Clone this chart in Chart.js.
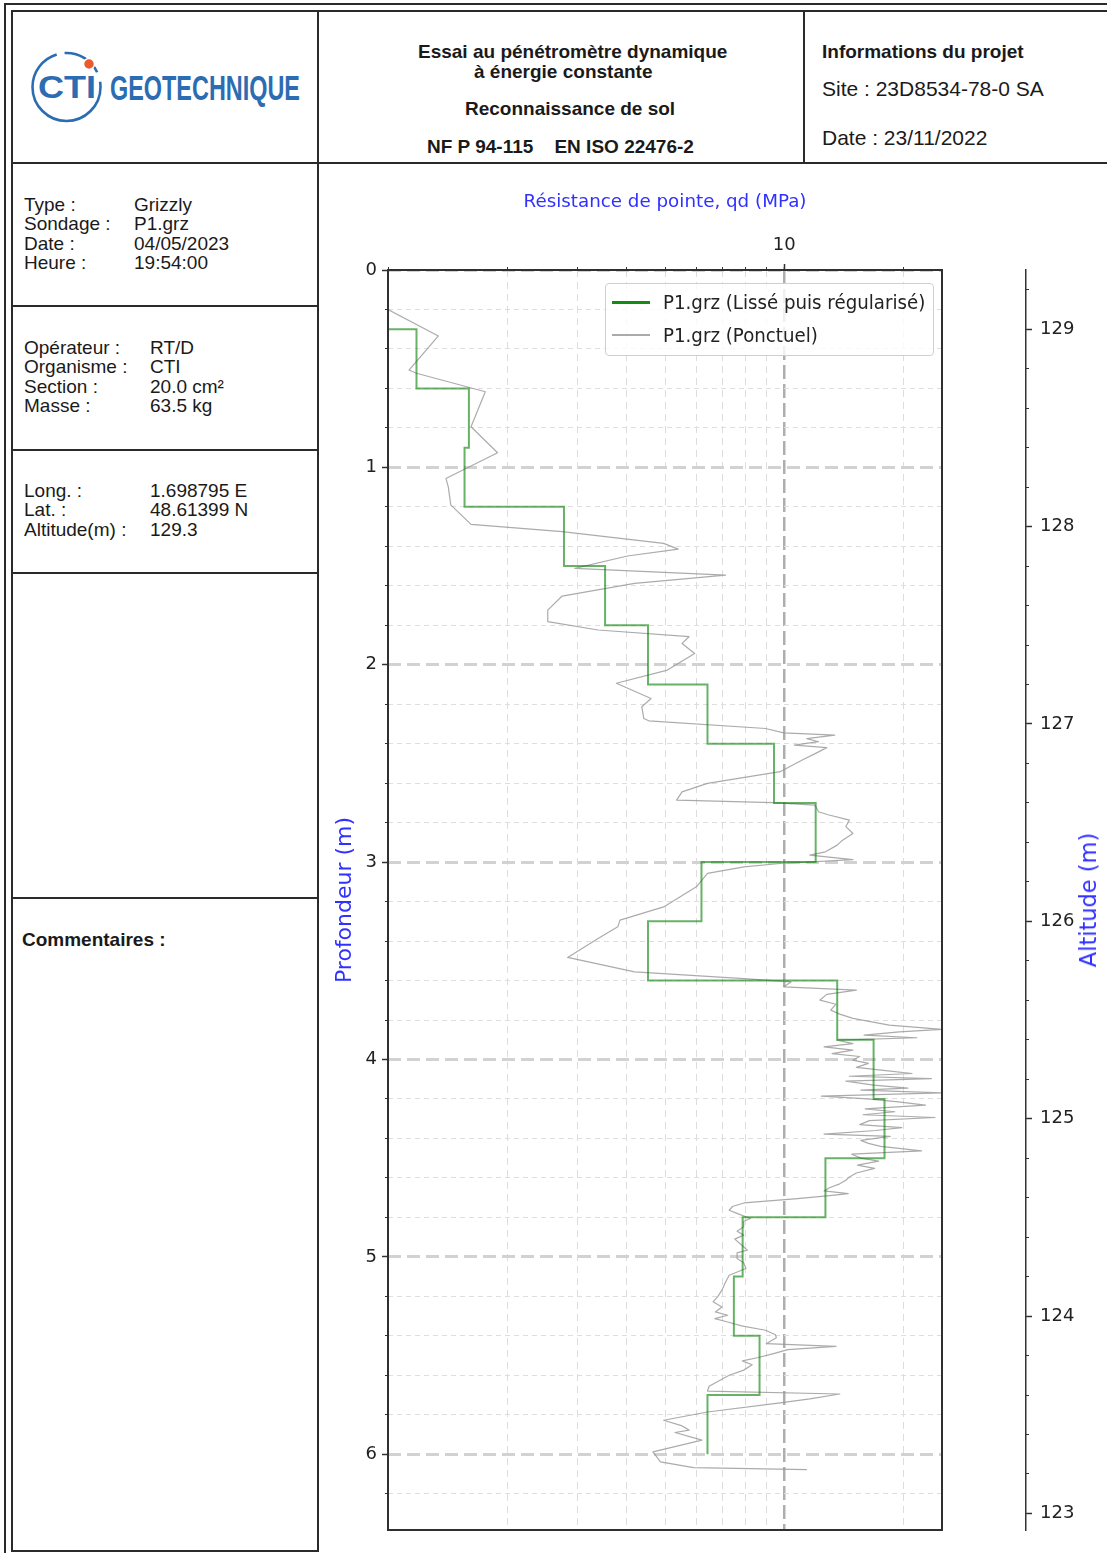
<!DOCTYPE html>
<html lang="fr">
<head>
<meta charset="utf-8">
<title>Essai au pénétromètre dynamique - P1</title>
<script src="https://cdn.jsdelivr.net/npm/chart.js@4.4.1/dist/chart.umd.min.js"></script>
<style>
  html, body { margin: 0; padding: 0; background: #fff; }
  body { position: relative; width: 1107px; height: 1553px; overflow: hidden;
         font-family: "Liberation Sans", Arial, sans-serif; color: #1a1a1a; }
  .ln { position: absolute; background: #2a2a2a; }
  .t { position: absolute; white-space: pre; }
  .hb { font-weight: bold; font-size: 19px; line-height: 20px; }
  .info { font-size: 19px; line-height: 19.3px; }
  canvas { position: absolute; }
  #legend { position: absolute; left: 605px; top: 283px; width: 327px; height: 71px;
            border: 1px solid #cfcfcf; border-radius: 4px; background: rgba(255,255,255,0.82);
            font-family: "DejaVu Sans", sans-serif; font-size: 20px; color: #222; }
  .lg-item { position: absolute; left: 0; height: 24px; }
  .lg-swatch { position: absolute; left: 6px; width: 38px; top: 11px; }
  .lg-text { position: absolute; left: 57px; top: 0; line-height: 24px; white-space: pre;
             transform: scaleX(0.91); transform-origin: 0 50%; }
  #altTitle { position: absolute; left: 1088px; top: 900px; transform: translate(-50%, -50%) rotate(-90deg);
              font-family: "DejaVu Sans", sans-serif; font-size: 22.5px; color: #3030ff; white-space: pre; }
</style>
</head>
<body>

<!-- page frame -->
<div class="ln" style="left:4px;top:3px;width:1103px;height:2px"></div>
<div class="ln" style="left:4px;top:3px;width:2px;height:1550px"></div>
<div class="ln" style="left:11px;top:10px;width:1096px;height:2px"></div>
<div class="ln" style="left:11px;top:10px;width:2px;height:1542px"></div>
<div class="ln" style="left:11px;top:162px;width:1096px;height:2px"></div>
<div class="ln" style="left:317px;top:10px;width:2px;height:1542px"></div>
<div class="ln" style="left:803px;top:10px;width:2px;height:153px"></div>
<div class="ln" style="left:11px;top:305px;width:308px;height:2px"></div>
<div class="ln" style="left:11px;top:449px;width:308px;height:2px"></div>
<div class="ln" style="left:11px;top:572px;width:308px;height:2px"></div>
<div class="ln" style="left:11px;top:897px;width:308px;height:2px"></div>
<div class="ln" style="left:11px;top:1550px;width:308px;height:2px"></div>

<!-- company logo -->
<svg style="position:absolute;left:20px;top:40px" width="290" height="100" viewBox="0 0 290 100">
  <circle cx="46.5" cy="47" r="34" fill="none" stroke="#2b6cb3" stroke-width="2.6"
          stroke-dasharray="150 8 40 10 200" />
  <text x="47" y="58" text-anchor="middle" font-family="Liberation Sans, Arial" font-weight="bold"
        font-size="31" fill="#2b6cb3" stroke="#fff" stroke-width="3" paint-order="stroke"
        textLength="58" lengthAdjust="spacingAndGlyphs">CTI</text>
  <circle cx="69" cy="24" r="5.5" fill="#ea5a2b" stroke="#fff" stroke-width="1.5"/>
  <text x="90" y="60" font-family="Liberation Sans Narrow, Liberation Sans, Arial" font-weight="bold"
        font-size="35" fill="#2b6cb3" textLength="190" lengthAdjust="spacingAndGlyphs">GEOTECHNIQUE</text>
</svg>

<!-- header texts -->
<div class="t hb" style="left:418px;top:42px">Essai au pénétromètre dynamique</div>
<div class="t hb" style="left:474px;top:62px">à énergie constante</div>
<div class="t hb" style="left:465px;top:99px">Reconnaissance de sol</div>
<div class="t hb" style="left:427px;top:137px">NF P 94-115    EN ISO 22476-2</div>
<div class="t hb" style="left:822px;top:42px">Informations du projet</div>
<div class="t" style="left:822px;top:78px;font-size:21px;line-height:22px">Site : 23D8534-78-0 SA</div>
<div class="t" style="left:822px;top:127px;font-size:21px;line-height:22px">Date : 23/11/2022</div>

<!-- sounding information -->
<div class="t info" style="left:24px;top:195px">Type :
Sondage :
Date :
Heure :</div>
<div class="t info" style="left:134px;top:195px">Grizzly
P1.grz
04/05/2023
19:54:00</div>
<div class="t info" style="left:24px;top:338px">Opérateur :
Organisme :
Section :
Masse :</div>
<div class="t info" style="left:150px;top:338px">RT/D
CTI
20.0 cm²
63.5 kg</div>
<div class="t info" style="left:24px;top:481px">Long. :
Lat. :
Altitude(m) :</div>
<div class="t info" style="left:150px;top:481px">1.698795 E
48.61399 N
129.3</div>
<div class="t" style="left:22px;top:930px;font-size:19px;font-weight:bold;line-height:20px">Commentaires :</div>

<canvas id="profile" width="787" height="1388" style="left:320px;top:165px"></canvas>
<canvas id="altitude" width="157" height="1388" style="left:950px;top:165px"></canvas>
<div id="legend"></div>
<div id="altTitle">Altitude (m)</div>

<script>
// ---- Sounding P1 : pointwise dynamic resistance qd (MPa) versus depth (m) ----
const rawDepth = [
  0.20, 0.334, 0.507, 0.523, 0.617, 0.794, 0.926, 1.056, 1.10, 1.19,
  1.289, 1.326, 1.385, 1.414, 1.449, 1.512, 1.546, 1.588, 1.652, 1.723,
  1.782, 1.824, 1.858, 1.892, 1.943, 2.027, 2.094, 2.171, 2.213, 2.272,
  2.284, 2.323, 2.345, 2.357, 2.374, 2.39, 2.407, 2.42, 2.449, 2.483,
  2.542, 2.601, 2.644, 2.686, 2.699, 2.711, 2.745, 2.76, 2.787, 2.82,
  2.855, 2.89, 2.914, 2.948, 2.965, 2.987, 3.007, 3.024, 3.057, 3.125,
  3.227, 3.294, 3.328, 3.387, 3.483, 3.556, 3.59, 3.607, 3.632, 3.649,
  3.67, 3.699, 3.72, 3.75, 3.77, 3.792, 3.826, 3.848, 3.86, 3.877,
  3.89, 3.902, 3.92, 3.936, 3.953, 3.97, 3.985, 4.003, 4.02, 4.04,
  4.055, 4.071, 4.085, 4.097, 4.11, 4.13, 4.145, 4.155, 4.169, 4.186,
  4.20, 4.215, 4.231, 4.25, 4.265, 4.28, 4.294, 4.31, 4.33, 4.345,
  4.36, 4.378, 4.39, 4.41, 4.425, 4.44, 4.463, 4.48, 4.50, 4.515,
  4.535, 4.552, 4.575, 4.595, 4.612, 4.63, 4.65, 4.666, 4.68, 4.69,
  4.705, 4.727, 4.745, 4.764, 4.78, 4.806, 4.82, 4.848, 4.87, 4.89,
  4.91, 4.93, 4.95, 4.966, 4.98, 5.008, 5.03, 5.059, 5.093, 5.13,
  5.169, 5.20, 5.228, 5.254, 5.279, 5.296, 5.313, 5.33, 5.35, 5.372,
  5.395, 5.41, 5.44, 5.454, 5.47, 5.49, 5.51, 5.527, 5.547, 5.574,
  5.60, 5.656, 5.68, 5.695, 5.72, 5.74, 5.786, 5.828, 5.855, 5.878,
  5.89, 5.929, 5.988, 6.01, 6.039, 6.068, 6.078
];
const rawQd = [
  1.00, 1.34, 1.13, 1.18, 1.76, 1.62, 1.89, 1.40, 1.42, 1.44,
  1.62, 2.75, 4.96, 5.40, 4.02, 2.96, 7.11, 4.19, 2.75, 2.53,
  2.53, 3.39, 5.75, 5.52, 5.94, 5.07, 3.77, 4.61, 4.37, 4.42,
  4.55, 8.97, 9.97, 13.4, 11.4, 12.2, 10.6, 12.8, 12.0, 11.1,
  9.76, 6.40, 5.52, 5.35, 9.36, 11.95, 12.2, 12.9, 14.6, 14.3,
  14.9, 14.0, 13.6, 12.7, 11.6, 14.9, 9.76, 7.91, 6.40, 6.00,
  4.96, 3.85, 3.80, 3.39, 2.84, 4.19, 7.91, 10.4, 9.97, 15.2,
  12.8, 12.3, 13.5, 13.1, 13.8, 14.9, 18.4, 25.0, 19.5, 15.9,
  21.6, 13.6, 14.9, 12.6, 14.9, 13.2, 15.5, 14.9, 16.3, 15.2,
  17.8, 21.0, 14.6, 23.5, 14.3, 16.8, 20.5, 15.6, 25.0, 12.4,
  16.2, 19.4, 22.7, 16.0, 19.0, 15.8, 24.0, 16.4, 15.5, 19.8,
  17.0, 12.6, 18.5, 15.6, 16.3, 17.5, 22.2, 14.8, 15.6, 17.3,
  15.3, 16.9, 15.2, 14.6, 14.3, 13.8, 13.0, 12.6, 14.5, 13.0,
  10.8, 7.91, 7.40, 7.26, 7.60, 8.21, 7.90, 7.90, 7.60, 7.90,
  7.50, 7.70, 7.90, 8.07, 7.60, 7.60, 7.90, 8.00, 7.26, 7.10,
  6.96, 6.80, 6.61, 6.96, 6.70, 7.20, 6.68, 7.20, 7.80, 8.97,
  9.50, 9.55, 9.00, 13.5, 10.2, 9.40, 8.60, 7.84, 8.30, 7.90,
  7.26, 6.46, 6.40, 13.8, 11.6, 9.76, 6.40, 4.96, 5.50, 5.75,
  5.30, 6.20, 4.66, 4.75, 4.87, 5.90, 11.4
];

// ---- Smoothed then regularised resistance, one value per 0.3 m layer ----
const layerTop  = [0.0, 0.3, 0.6, 0.9, 1.2, 1.5, 1.8, 2.1, 2.4, 2.7, 3.0, 3.3, 3.6, 3.9, 4.2, 4.5, 4.8, 5.1, 5.4, 5.7];
const layerBase = [0.3, 0.6, 0.9, 1.2, 1.5, 1.8, 2.1, 2.4, 2.7, 3.0, 3.3, 3.6, 3.9, 4.2, 4.5, 4.8, 5.1, 5.4, 5.7, 6.0];
const layerQd   = [0.9, 1.18, 1.60, 1.56, 2.78, 3.53, 4.53, 6.40, 9.42, 12.0, 6.18, 4.53, 13.6, 16.8, 17.9, 12.7, 7.85, 7.46, 8.66, 6.40];

// ---- Axes ----
const seriesLabels = ['P1.grz (Lissé puis régularisé)', 'P1.grz (Ponctuel)'];
const qdGridTicks = [1, 2, 3, 4, 5, 6, 7, 8, 9, 10, 20];
const qdLabelTicks = [10];
const depthLabelTicks = [0, 1, 2, 3, 4, 5, 6];
const altitudeLabelTicks = [123, 124, 125, 126, 127, 128, 129];
const groundAltitude = 129.3;
const qdMin = 1, qdMax = 25;
const depthMax = 6.384;

// helpers: evenly spaced minor ticks (0.2 m)
function minorSteps(from, to, step) {
  const out = [];
  for (let k = Math.ceil(from / step - 1e-9); k * step <= to + 1e-9; k++) out.push(Math.round(k * step * 10) / 10);
  return out;
}
const toTicks = arr => arr.map(v => ({ value: v }));
const isInt = v => Math.abs(v - Math.round(v)) < 1e-6;

const GREEN = 'rgba(0,128,0,0.6)';
const GREY = 'rgba(150,150,150,0.8)';
const AXIS_BLUE = '#3030ff';
const TXT = '#222';
const FONT = 'DejaVu Sans';

Chart.defaults.font.family = FONT;
Chart.defaults.color = TXT;

// stepped profile of the regularised layers
const stepPoints = [];
layerQd.forEach((q, i) => { stepPoints.push({ x: q, y: layerTop[i] }, { x: q, y: layerBase[i] }); });
const rawPoints = rawDepth.map((d, i) => ({ x: rawQd[i], y: d }));

const framePlugin = {
  id: 'frame',
  afterDatasetsDraw(chart) {
    const a = chart.chartArea, c = chart.ctx;
    c.save();
    c.strokeStyle = '#303030';
    c.lineWidth = 2;
    c.strokeRect(a.left, a.top, a.right - a.left, a.bottom - a.top);
    c.restore();
  }
};

const fixW = w => s => { s.width = w; s.paddingTop = 0; s.paddingBottom = 0; };
const fixH = h => s => { s.height = h; s.paddingLeft = 0; s.paddingRight = 0; };

new Chart(document.getElementById('profile'), {
  type: 'scatter',
  data: {
    datasets: [
      { label: seriesLabels[0], data: stepPoints, showLine: true, borderColor: GREEN, borderWidth: 2,
        pointRadius: 0, tension: 0, xAxisID: 'x', yAxisID: 'y' },
      { label: seriesLabels[1], data: rawPoints, showLine: true, borderColor: GREY, borderWidth: 1.2,
        borderJoinStyle: 'round', pointRadius: 0, tension: 0, xAxisID: 'x', yAxisID: 'y' }
    ]
  },
  options: {
    responsive: false, animation: false, devicePixelRatio: 1,
    layout: { padding: { left: 0, top: 0, right: 165, bottom: 23 } },
    plugins: { legend: { display: false }, tooltip: { enabled: false } },
    scales: {
      // qd axis carrying the grid and the short minor ticks
      x: {
        type: 'logarithmic', position: 'top', weight: 0, min: qdMin, max: qdMax,
        afterBuildTicks: s => { s.ticks = toTicks(qdGridTicks); },
        afterFit: fixH(0),
        ticks: { display: false, autoSkip: false },
        border: { display: false, dash: c => (c.tick && c.tick.value === 10) ? [14, 5] : [7, 5] },
        grid: {
          tickLength: 3, drawTicks: true,
          color: c => (c.tick && c.tick.value === 10) ? 'rgba(165,165,165,0.9)' : '#dddddd',
          lineWidth: c => (c.tick && c.tick.value === 10) ? 2.5 : 1,
          tickColor: '#333', tickWidth: 1
        }
      },
      // qd axis carrying the label, major tick and title
      xLab: {
        type: 'logarithmic', position: 'top', weight: 1, min: qdMin, max: qdMax,
        afterBuildTicks: s => { s.ticks = toTicks(qdLabelTicks); },
        afterFit: fixH(105),
        ticks: { autoSkip: false, maxRotation: 0, padding: 8, font: { size: 18 }, callback: v => String(v) },
        border: { display: false },
        grid: { drawOnChartArea: false, tickLength: 6, tickColor: '#333', tickWidth: 1.5 },
        title: { display: true, text: 'Résistance de pointe, qd (MPa)', color: AXIS_BLUE,
                 font: { size: 18.3 }, padding: { top: 26, bottom: 0 } }
      },
      // depth axis carrying the grid and minor ticks
      y: {
        type: 'linear', position: 'left', weight: 0, reverse: true, min: 0, max: depthMax,
        afterBuildTicks: s => { s.ticks = toTicks(minorSteps(0, depthMax, 0.2)); },
        afterFit: fixW(0),
        ticks: { display: false, autoSkip: false },
        border: { display: false, dash: c => (c.tick && isInt(c.tick.value)) ? [13, 6] : [5, 4] },
        grid: {
          tickLength: 3, drawTicks: true,
          color: c => (c.tick && isInt(c.tick.value)) ? '#d2d2d2' : '#dedede',
          lineWidth: c => (c.tick && isInt(c.tick.value)) ? 3 : 1,
          tickColor: '#333', tickWidth: 1
        }
      },
      // depth axis carrying labels, major ticks and title
      yLab: {
        type: 'linear', position: 'left', weight: 1, reverse: true, min: 0, max: depthMax,
        afterBuildTicks: s => { s.ticks = toTicks(depthLabelTicks); },
        afterFit: fixW(68),
        ticks: { autoSkip: false, padding: 5, font: { size: 18 }, callback: v => String(v) },
        border: { display: false },
        grid: { drawOnChartArea: false, tickLength: 6, tickColor: '#333', tickWidth: 1.5 },
        title: { display: true, text: 'Profondeur (m)', color: AXIS_BLUE,
                 font: { size: 22 }, padding: { top: 12, bottom: 0 } }
      }
    }
  },
  plugins: [framePlugin]
});

// ---- Altitude axis (ground level 129.3 m at zero depth) ----
const altMin = groundAltitude - depthMax;
new Chart(document.getElementById('altitude'), {
  type: 'scatter',
  data: { datasets: [] },
  options: {
    responsive: false, animation: false, devicePixelRatio: 1,
    layout: { padding: { left: 70, top: 105, right: 0, bottom: 23 } },
    plugins: { legend: { display: false }, tooltip: { enabled: false } },
    scales: {
      x: { type: 'linear', display: false, min: 0, max: 1 },
      alt: {
        type: 'linear', position: 'right', weight: 0, min: altMin, max: groundAltitude,
        afterBuildTicks: s => { s.ticks = toTicks(minorSteps(altMin, groundAltitude, 0.2)); },
        afterFit: fixW(0),
        ticks: { display: false, autoSkip: false },
        border: { display: false },
        grid: { drawOnChartArea: false, tickLength: 3, tickColor: '#333', tickWidth: 1 }
      },
      altLab: {
        type: 'linear', position: 'right', weight: 1, min: altMin, max: groundAltitude,
        afterBuildTicks: s => { s.ticks = toTicks(altitudeLabelTicks); },
        afterFit: fixW(81),
        ticks: { autoSkip: false, padding: 8, font: { size: 18 }, callback: v => String(v) },
        border: { display: true, color: '#333', width: 1.5 },
        grid: { drawOnChartArea: false, tickLength: 6, tickColor: '#333', tickWidth: 1.5 }
      }
    }
  }
});

// ---- Legend ----
const legendColours = ['rgb(20,140,20)', 'rgb(170,170,170)'];
const legendWidths = [3, 2];
const legendEl = document.getElementById('legend');
seriesLabels.forEach((lab, i) => {
  const item = document.createElement('div');
  item.className = 'lg-item';
  item.style.top = (6 + i * 33) + 'px';
  item.style.width = '100%';
  const sw = document.createElement('div');
  sw.className = 'lg-swatch';
  sw.style.borderTop = legendWidths[i] + 'px solid ' + legendColours[i];
  const tx = document.createElement('div');
  tx.className = 'lg-text';
  tx.textContent = lab;
  item.appendChild(sw); item.appendChild(tx);
  legendEl.appendChild(item);
});
</script>
</body>
</html>
